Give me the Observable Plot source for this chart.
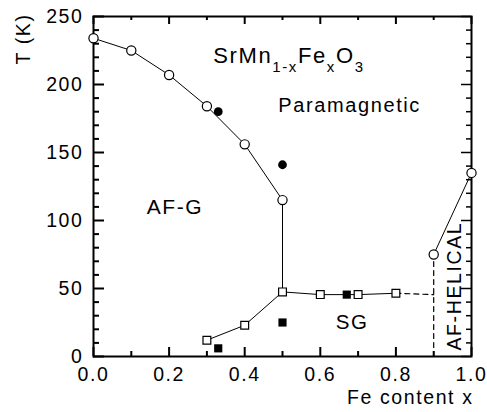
<!DOCTYPE html>
<html><head><meta charset="utf-8">
<script src="https://cdn.jsdelivr.net/npm/d3@7"></script>
<script src="https://cdn.jsdelivr.net/npm/@observablehq/plot@0.6"></script>
<style>body{margin:0;background:#fff}</style>
</head><body><div id="chart"></div>
<script>
// AF-G Néel temperature (open circles) and extra points (filled circles)
const afgX = [0.0, 0.1, 0.2, 0.3, 0.4, 0.5];
const afgT = [234, 225, 207, 184, 156, 115];
const afgFilledX = [0.33, 0.5];
const afgFilledT = [180, 141];
// AF-helical transition (open circles)
const helX = [0.9, 1.0];
const helT = [75, 135];
// Spin-glass freezing (open squares) and extra points (filled squares)
const sgX = [0.3, 0.4, 0.5, 0.6, 0.7, 0.8];
const sgT = [12, 23, 47.5, 45.5, 45.5, 46.5];
const sgFilledX = [0.33, 0.5, 0.67];
const sgFilledT = [6, 25, 45.5];
// dashed boundary
const dashX = [0.8, 0.9];
const dashT = [46.5, 45.5];
// ticks
const xTickLabels = [0.0, 0.2, 0.4, 0.6, 0.8, 1.0];
const xMinorTicks = [0.1, 0.3, 0.5, 0.7, 0.9];
const yTickLabels = [0, 50, 100, 150, 200, 250];
const yMinorTicks = [10, 20, 30, 40, 60, 70, 80, 90, 110, 120, 130, 140, 160, 170, 180, 190, 210, 220, 230, 240];
const formulaParts = [["SrMn", 0], ["1-x", 1], ["Fe", 0], ["x", 1], ["O", 0], ["3", 1]];

const zip = (xs, ys) => xs.map((x, i) => ({x, T: ys[i]}));
const afg = zip(afgX, afgT), afgF = zip(afgFilledX, afgFilledT);
const hel = zip(helX, helT);
const sg = zip(sgX, sgT), sgF = zip(sgFilledX, sgFilledT);
const dash = zip(dashX, dashT);
const vSolid = [{x: afgX[5], T: afgT[5]}, {x: sgX[2], T: sgT[2]}];
const vDash = [{x: helX[0], T: 0}, {x: helX[0], T: helT[0]}];

const W = 487, H = 412, mL = 93, mR = 16, mT = 16, mB = 56;
const fw = W - mL - mR, fh = H - mT - mB;

const chart = Plot.plot({
  width: W, height: H,
  marginLeft: mL, marginRight: mR, marginTop: mT, marginBottom: mB,
  x: {domain: [0, 1]},
  y: {domain: [0, 250]},
  style: {fontFamily: "'Liberation Sans', Arial, sans-serif", letterSpacing: "1.6px", color: "#000", background: "#fff"},
  marks: [
    // inward ticks
    Plot.ruleX(xTickLabels, {x: d => d, insetTop: fh - 9, strokeWidth: 2}),
    Plot.ruleX(xMinorTicks, {x: d => d, insetTop: fh - 5, strokeWidth: 2}),
    Plot.ruleX(xTickLabels, {x: d => d, insetBottom: fh - 8, strokeWidth: 2}),
    Plot.ruleX(xMinorTicks, {x: d => d, insetBottom: fh - 4, strokeWidth: 2}),
    Plot.ruleY(yTickLabels, {y: d => d, insetRight: fw - 11, strokeWidth: 2}),
    Plot.ruleY(yMinorTicks, {y: d => d, insetRight: fw - 6, strokeWidth: 2}),
    Plot.ruleY(yTickLabels, {y: d => d, insetLeft: fw - 10, strokeWidth: 1.5}),
    Plot.ruleY(yMinorTicks, {y: d => d, insetLeft: fw - 5, strokeWidth: 1.5}),
    Plot.frame({strokeWidth: 2}),
    Plot.axisX(xTickLabels, {tickSize: 0, tickPadding: 11, tickFormat: d3.format(".1f"), fontSize: 19.5, label: null}),
    Plot.axisY(yTickLabels, {tickSize: 0, tickPadding: 10, fontSize: 19.5, label: null}),
    // lines
    Plot.line(afg, {x: "x", y: "T", stroke: "#000", strokeWidth: 1}),
    Plot.line(vSolid, {x: "x", y: "T", stroke: "#000", strokeWidth: 1}),
    Plot.line(hel, {x: "x", y: "T", stroke: "#000", strokeWidth: 1}),
    Plot.line(sg, {x: "x", y: "T", stroke: "#000", strokeWidth: 1}),
    Plot.line(dash, {x: "x", y: "T", stroke: "#000", strokeWidth: 1.2, strokeDasharray: "5,4"}),
    Plot.line(vDash, {x: "x", y: "T", stroke: "#000", strokeWidth: 1.2, strokeDasharray: "5,4"}),
    // symbols
    Plot.dot(afg, {x: "x", y: "T", r: 4.6, fill: "#fff", stroke: "#000", strokeWidth: 1.2}),
    Plot.dot(hel, {x: "x", y: "T", r: 4.6, fill: "#fff", stroke: "#000", strokeWidth: 1.2}),
    Plot.dot(afgF, {x: "x", y: "T", r: 4.4, fill: "#000", stroke: null}),
    Plot.dot(sg, {x: "x", y: "T", r: 4.4, symbol: "square", fill: "#fff", stroke: "#000", strokeWidth: 1.2}),
    Plot.dot(sgF, {x: "x", y: "T", r: 4.6, symbol: "square", fill: "#000", stroke: null}),
    // region labels
    Plot.text(["SrMn1-xFexO3"], {x: 0.317, y: 216, textAnchor: "start", lineAnchor: "bottom", fontSize: 22}),
    Plot.text(["Paramagnetic"], {x: 0.489, y: 179.5, textAnchor: "start", lineAnchor: "bottom", fontSize: 20}),
    Plot.text(["AF-G"], {x: 0.2156, y: 105, textAnchor: "middle", lineAnchor: "bottom", fontSize: 21}),
    Plot.text(["SG"], {x: 0.684, y: 20.5, textAnchor: "middle", lineAnchor: "bottom", fontSize: 20.5}),
    Plot.text(["AF-HELICAL"], {x: 0.955, y: 4.4, rotate: -90, textAnchor: "start", lineAnchor: "middle", fontSize: 19.5}),
    // axis titles
    Plot.text(["T (K)"], {frameAnchor: "top-left", rotate: -90, textAnchor: "end", lineAnchor: "middle", dx: -70, dy: -3, fontSize: 19.5}),
    Plot.text(["Fe content x"], {frameAnchor: "bottom-right", textAnchor: "end", lineAnchor: "middle", dx: 2, dy: 41, fontSize: 19.5})
  ]
});

// subscripts in the formula
chart.querySelectorAll("text").forEach(t => {
  if (t.textContent === "SrMn1-xFexO3") {
    t.textContent = "";
    let sub = false;
    for (const [s, isSub] of formulaParts) {
      const ts = document.createElementNS("http://www.w3.org/2000/svg", "tspan");
      ts.textContent = s;
      if (isSub && !sub) { ts.setAttribute("dy", "9"); ts.setAttribute("font-size", "15"); }
      else if (isSub) { ts.setAttribute("font-size", "15"); }
      else if (sub) { ts.setAttribute("dy", "-9"); }
      sub = !!isSub;
      t.appendChild(ts);
    }
  }
});
document.getElementById("chart").appendChild(chart);
</script>
</body></html>
